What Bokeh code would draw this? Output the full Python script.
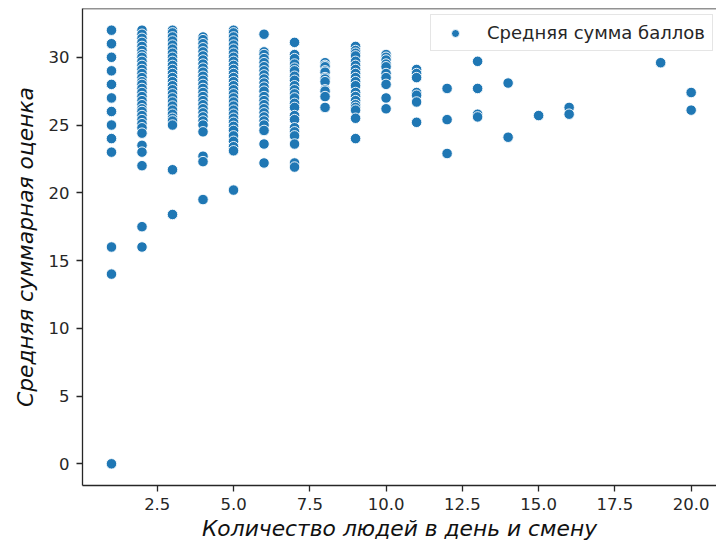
from bokeh.plotting import figure
from bokeh.models import FixedTicker, NumeralTickFormatter, Span, Range1d, Legend, LegendItem, ColumnDataSource
from bokeh.embed import file_html
from bokeh.resources import INLINE

# --- data: average total score per "people per day & shift" count ---
y_1 = [32, 31, 30, 29, 28, 27, 26, 25, 24, 23, 16, 14, 0]
y_2 = [32, 31.7, 31.4, 31.1, 30.8, 30.5, 30.2, 30, 29.7, 29.4, 29.1, 28.8, 28.5, 28.2, 28, 27.7,
       27.4, 27.1, 26.8, 26.5, 26.2, 26, 25.7, 25.4, 25.1, 24.8, 24.4, 23.5, 23, 22, 17.5, 16]
y_3 = [32, 31.8, 31.5, 31.2, 30.9, 30.6, 30.3, 30, 29.7, 29.4, 29.1, 28.8, 28.5, 28.2, 27.9, 27.6,
       27.3, 27, 26.7, 26.4, 26.1, 25.8, 25.5, 25.3, 25, 21.7, 18.4]
y_4 = [31.5, 31.3, 31, 30.7, 30.4, 30.1, 29.8, 29.5, 29.2, 28.9, 28.6, 28.3, 28, 27.7, 27.4, 27.1,
       26.8, 26.5, 26.2, 25.9, 25.6, 25.3, 25, 24.5, 22.7, 22.3, 19.5]
y_5 = [32, 31.8, 31.5, 31.2, 30.9, 30.6, 30.3, 30, 29.7, 29.4, 29.1, 28.8, 28.5, 28.2, 27.9, 27.6,
       27.3, 27, 26.7, 26.4, 26.1, 25.8, 25.5, 25.2, 24.9, 24.6, 24.2, 23.8, 23.4, 23.1, 20.2]
y_6 = [31.7, 30.4, 30.2, 29.9, 29.6, 29.3, 29, 28.7, 28.4, 28.1, 27.8, 27.5, 27.1, 26.8, 26.5,
       26.2, 25.9, 25.6, 25.3, 25, 24.6, 23.6, 22.2]
y_7 = [31.1, 30.2, 29.9, 29.5, 29.2, 29, 28.6, 28.3, 27.9, 27.6, 27.3, 27, 26.6, 26.3, 25.7, 25.4,
       24.8, 24.5, 24.2, 23.6, 22.2, 21.9]
y_8 = [29.6, 29.4, 29.3, 29, 28.9, 28.5, 28.4, 28.2, 27.6, 27.5, 27.1, 26.3]
y_9 = [30.8, 30.5, 30.3, 30.1, 29.7, 29.4, 29.1, 28.8, 28.5, 28.2, 27.9, 27.4, 27.1, 26.8, 26.5,
       26.3, 26.1, 25.5, 24]
y_10 = [30.2, 30, 29.8, 29.5, 29.3, 28.8, 28.5, 28, 27, 26.2]
y_11 = [29.1, 28.8, 28.5, 27.4, 27.2, 26.7, 25.2]
y_12 = [27.7, 25.4, 22.9]
y_13 = [29.7, 27.7, 25.8, 25.6]
y_14 = [28.1, 24.1]
y_15 = [25.7]
y_16 = [26.3, 25.8]
y_19 = [29.6]
y_20 = [27.4, 26.1]

groups = [(1, y_1), (2, y_2), (3, y_3), (4, y_4), (5, y_5), (6, y_6), (7, y_7), (8, y_8),
          (9, y_9), (10, y_10), (11, y_11), (12, y_12), (13, y_13), (14, y_14), (15, y_15),
          (16, y_16), (19, y_19), (20, y_20)]

x_ticks = [2.5, 5.0, 7.5, 10.0, 12.5, 15.0, 17.5, 20.0]
y_ticks = [0, 5, 10, 15, 20, 25, 30]

xs, ys = [], []
for xv, yl in groups:
    for yv in yl:
        xs.append(xv)
        ys.append(yv)
src = ColumnDataSource(dict(x=xs, y=ys))

AX = "#262626"
p = figure(frame_width=634, frame_height=477, output_backend="svg", toolbar_location=None,
           x_range=Range1d(0.05, 20.83), y_range=Range1d(-1.6, 33.6),
           min_border_left=82, min_border_top=8, min_border_right=0, min_border_bottom=0)
p.outline_line_color = None
p.grid.visible = False
p.background_fill_color = "white"

r = p.scatter("x", "y", source=src, size=10.5, fill_color="#1f77b4", line_color="white",
              line_width=0.9)

for ax in (p.xaxis[0], p.yaxis[0]):
    ax.axis_line_color = AX
    ax.axis_line_width = 1.3
    ax.major_tick_line_color = AX
    ax.major_tick_line_width = 1.3
    ax.major_tick_out = 6
    ax.major_tick_in = 0
    ax.minor_tick_line_color = None
    ax.major_label_text_font = "DejaVu Sans"
    ax.major_label_text_font_size = "16.5px"
    ax.major_label_text_color = AX
    ax.axis_label_text_font = "DejaVu Sans"
    ax.axis_label_text_font_style = "italic"
    ax.axis_label_text_font_size = "21.8px"
    ax.axis_label_text_color = "#111111"

p.xaxis.ticker = FixedTicker(ticks=x_ticks)
p.xaxis.formatter = NumeralTickFormatter(format="0.0")
p.yaxis.ticker = FixedTicker(ticks=y_ticks)
p.xaxis.axis_label = "Количество людей в день и смену"
p.yaxis.axis_label = "Средняя суммарная оценка"
p.xaxis.major_label_standoff = 6
p.xaxis.axis_label_standoff = 3
p.yaxis.major_label_standoff = 7
p.yaxis.axis_label_standoff = 8

top_spine = Span(location=33.6, dimension="width", line_color=AX, line_width=1.5)
p.add_layout(top_spine)

legend = Legend(items=[LegendItem(label="Средняя сумма баллов", renderers=[r])],
                location=(348, 434))
legend.label_text_font = "DejaVu Sans"
legend.label_text_font_size = "18px"
legend.label_text_color = AX
legend.padding = 7
legend.glyph_width = 34
legend.label_standoff = 15
legend.border_line_color = "#cccccc"
legend.border_line_width = 1.2
legend.background_fill_alpha = 0.8
p.add_layout(legend)

open("out.html", "w").write(file_html(p, INLINE))
